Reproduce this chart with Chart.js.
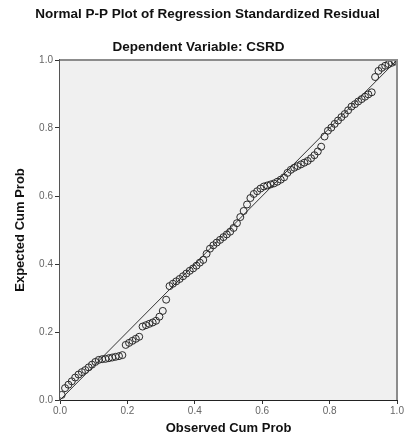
<!DOCTYPE html>
<html>
<head>
<meta charset="utf-8">
<script src="https://cdn.jsdelivr.net/npm/chart.js@4.4.1/dist/chart.umd.min.js"></script>
<style>
  html, body { margin: 0; padding: 0; background: #fff; }
</style>
</head>
<body>
<canvas id="pp_plot" width="404" height="439"></canvas>
<script>
// observed cumulative probability (x) and expected cumulative probability (y)
const observed = [
  0.005, 0.015, 0.025, 0.035, 0.045, 0.055, 0.065, 0.075, 0.085, 0.095,
  0.105, 0.115, 0.125, 0.135, 0.145, 0.155, 0.165, 0.175, 0.185, 0.195,
  0.205, 0.215, 0.225, 0.235, 0.245, 0.255, 0.265, 0.275, 0.285, 0.295,
  0.305, 0.315, 0.325, 0.335, 0.345, 0.355, 0.365, 0.375, 0.385, 0.395,
  0.405, 0.415, 0.425, 0.435, 0.445, 0.455, 0.465, 0.475, 0.485, 0.495,
  0.505, 0.515, 0.525, 0.535, 0.545, 0.555, 0.565, 0.575, 0.585, 0.595,
  0.605, 0.615, 0.625, 0.635, 0.645, 0.655, 0.665, 0.675, 0.685, 0.695,
  0.705, 0.715, 0.725, 0.735, 0.745, 0.755, 0.765, 0.775, 0.785, 0.795,
  0.805, 0.815, 0.825, 0.835, 0.845, 0.855, 0.865, 0.875, 0.885, 0.895,
  0.905, 0.915, 0.925, 0.935, 0.945, 0.955, 0.965, 0.975, 0.985, 0.995
]
const expected = [
  0.015, 0.035, 0.045, 0.055, 0.066, 0.075, 0.082, 0.088, 0.096, 0.104,
  0.112, 0.118, 0.120, 0.121, 0.123, 0.125, 0.127, 0.129, 0.132, 0.162,
  0.168, 0.174, 0.180, 0.186, 0.216, 0.220, 0.224, 0.228, 0.233, 0.245,
  0.262, 0.295, 0.335, 0.342, 0.349, 0.356, 0.364, 0.372, 0.380, 0.387,
  0.395, 0.404, 0.412, 0.430, 0.445, 0.455, 0.463, 0.471, 0.479, 0.487,
  0.495, 0.506, 0.520, 0.538, 0.556, 0.575, 0.594, 0.606, 0.614, 0.622,
  0.628, 0.631, 0.634, 0.637, 0.642, 0.648, 0.655, 0.668, 0.677, 0.683,
  0.688, 0.693, 0.698, 0.703, 0.711, 0.720, 0.731, 0.745, 0.775, 0.792,
  0.801, 0.812, 0.822, 0.832, 0.841, 0.852, 0.863, 0.870, 0.878, 0.885,
  0.892, 0.899, 0.905, 0.950, 0.968, 0.977, 0.983, 0.988, 0.992, 0.996
]
// reference line ends
const refLineX = [0, 1]
const refLineY = [0, 1]
const tickValues = [0, 0.2, 0.4, 0.6, 0.8, 1.0]

const fontFamily = 'Arial, "Liberation Sans", sans-serif'

const points = observed.map((x, i) => ({ x: x, y: expected[i] }))
const refLine = refLineX.map((x, i) => ({ x: x, y: refLineY[i] }))

// grey plot background and the upper/right frame
const plotFrame = {
  id: 'plotFrame',
  afterLayout(chart) {
    // main title sits a little right of centre in the original
    if (chart.titleBlock) chart.titleBlock.left += 18
  },
  beforeDatasetsDraw(chart) {
    const { ctx, chartArea: a } = chart
    ctx.save()
    ctx.fillStyle = '#f0f0f0'
    ctx.fillRect(a.left, a.top, a.right - a.left, a.bottom - a.top)
    ctx.restore()
  },
  afterDraw(chart) {
    const { ctx, chartArea: a } = chart
    ctx.save()
    ctx.strokeStyle = '#8c8c8c'
    ctx.lineWidth = 2
    ctx.beginPath()
    ctx.moveTo(a.left, a.top)
    ctx.lineTo(a.right, a.top)
    ctx.lineTo(a.right, a.bottom)
    ctx.stroke()
    ctx.restore()
  }
}

const ctx = document.getElementById('pp_plot').getContext('2d')

const chart = new Chart(ctx, {
  type: 'scatter',
  data: {
    datasets: [{
      data: points,
      pointRadius: 3.5,
      pointBorderWidth: 1,
      borderColor: '#2a2a2a',
      backgroundColor: 'transparent',
      pointHoverRadius: 3.5
    }, {
      data: refLine,
      showLine: true,
      pointRadius: 0,
      borderColor: '#333',
      borderWidth: 1
    }]
  },
  plugins: [plotFrame],
  options: {
    responsive: false,
    animation: false,
    layout: { padding: { left: 0, right: 7, top: 0, bottom: 0 } },
    plugins: {
      legend: { display: false },
      tooltip: { enabled: false },
      title: {
        display: true,
        text: 'Normal P-P Plot of Regression Standardized Residual',
        color: '#111',
        font: { family: fontFamily, size: 13.5, weight: 'bold', lineHeight: 1.2 },
        padding: { top: 6, bottom: 0 }
      },
      subtitle: {
        display: true,
        text: 'Dependent Variable: CSRD',
        color: '#111',
        font: { family: fontFamily, size: 13.5, weight: 'bold', lineHeight: 1.2 },
        padding: { top: 16.7, bottom: 4.9 }
      }
    },
    scales: {
      x: {
        type: 'linear',
        min: 0,
        max: 1,
        afterBuildTicks: (scale) => { scale.ticks = tickValues.map(v => ({ value: v })) },
        afterFit: (scale) => { scale.height = 39; scale.paddingLeft = 0; scale.paddingRight = 0 },
        ticks: {
          color: '#666',
          padding: 1,
          font: { family: fontFamily, size: 10 },
          callback: (v) => v.toFixed(1)
        },
        grid: { drawOnChartArea: false, drawTicks: true, tickLength: 4, color: '#333' },
        border: { display: true, color: '#222', width: 2 },
        title: {
          display: true,
          text: 'Observed Cum Prob',
          color: '#111',
          font: { family: fontFamily, size: 13, weight: 'bold', lineHeight: 1.2 },
          padding: { top: 0, bottom: 3.2 }
        }
      },
      y: {
        type: 'linear',
        min: 0,
        max: 1,
        afterBuildTicks: (scale) => { scale.ticks = tickValues.map(v => ({ value: v })) },
        afterFit: (scale) => { scale.width = 60; scale.paddingTop = 0; scale.paddingBottom = 0 },
        ticks: {
          color: '#666',
          padding: 2,
          font: { family: fontFamily, size: 10 },
          callback: (v) => v.toFixed(1)
        },
        grid: { drawOnChartArea: false, drawTicks: true, tickLength: 5, color: '#333' },
        border: { display: true, color: '#555', width: 2 },
        title: {
          display: true,
          text: 'Expected Cum Prob',
          color: '#111',
          font: { family: fontFamily, size: 13, weight: 'bold', lineHeight: 1.2 },
          padding: { top: 12.2, bottom: 0 }
        }
      }
    }
  }
})
</script>
</body>
</html>
